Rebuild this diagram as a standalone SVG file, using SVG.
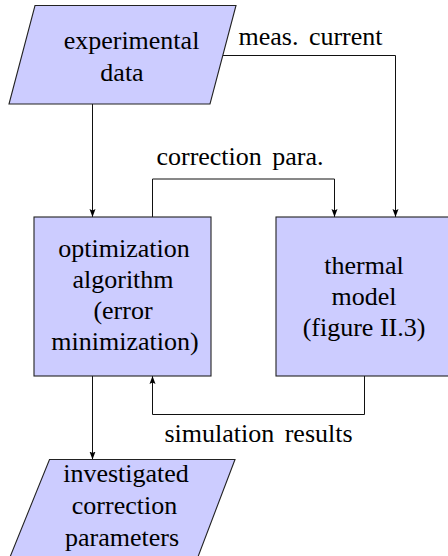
<svg xmlns="http://www.w3.org/2000/svg" width="448" height="556" viewBox="0 0 448 556">
<style>
.node{fill:#ccccff;stroke:#222;stroke-width:1.1}
.t{font-family:"Liberation Serif","Times New Roman",serif;font-size:26px;fill:#000;text-anchor:middle}
.lbl{word-spacing:4px}
.c{fill:none;stroke:#111;stroke-width:1}
</style>
<defs>
<marker id="ah" markerUnits="userSpaceOnUse" markerWidth="10" markerHeight="8" refX="8" refY="4" orient="auto">
<path d="M0,1 L8,4 L0,7 L1.5,4 Z" fill="#000"/>
</marker>
</defs>
<rect width="448" height="556" fill="#fff"/>
<g id="connectors">
<path class="c" d="M92.5,104 V217" marker-end="url(#ah)"/>
<path class="c" d="M152.5,217 V179 H334.5 V217" marker-end="url(#ah)"/>
<path class="c" d="M222.8,55.5 H395.5 V217" marker-end="url(#ah)"/>
<path class="c" d="M92.5,376 V459.5" marker-end="url(#ah)"/>
<path class="c" d="M364.5,376 V414.5 H152.5 V376" marker-end="url(#ah)"/>
<text class="t lbl" x="310.5" y="45">meas. current</text>
<text class="t lbl" x="240" y="165">correction para.</text>
<text class="t lbl" x="258.5" y="442">simulation results</text>
</g>
<g id="experimental-data">
<polygon class="node" points="35,5.5 236,5.5 210,104 9,104"/>
<text class="t" x="131.5" y="48.5">experimental</text>
<text class="t" x="122" y="80.5">data</text>
</g>
<g id="optimization-algorithm">
<rect class="node" x="34" y="217" width="177" height="159"/>
<text class="t" x="124" y="256.5">optimization</text>
<text class="t" x="123" y="288">algorithm</text>
<text class="t" x="123" y="319">(error</text>
<text class="t" x="125" y="350">minimization)</text>
</g>
<g id="thermal-model">
<rect class="node" x="276" y="217" width="180" height="159"/>
<text class="t" x="364" y="273.5">thermal</text>
<text class="t" x="364" y="305">model</text>
<text class="t" x="364" y="336">(figure II.3)</text>
</g>
<g id="investigated-parameters">
<polygon class="node" points="49.5,459.5 235,459.5 196,562 8,562"/>
<text class="t" x="126" y="482">investigated</text>
<text class="t" x="124.5" y="514">correction</text>
<text class="t" x="122" y="545.5">parameters</text>
</g>
</svg>
